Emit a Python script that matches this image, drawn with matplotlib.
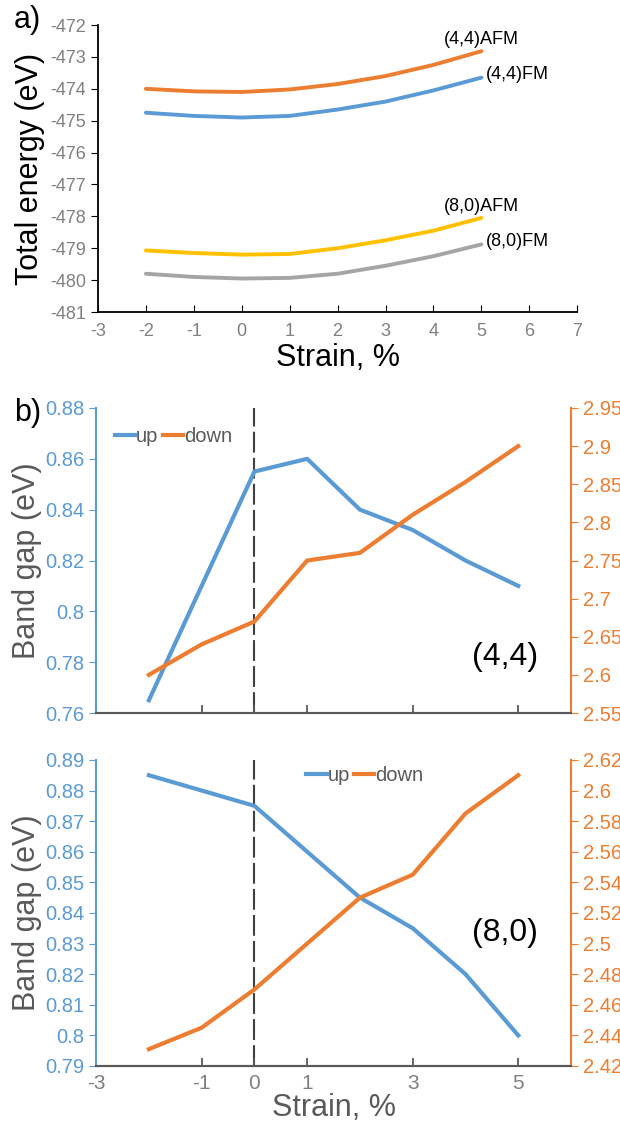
import matplotlib
matplotlib.use('Agg')
import matplotlib.pyplot as plt
from matplotlib import font_manager
import numpy as np

# --- data ---
strain = [-2, -1, 0, 1, 2, 3, 4, 5]

e44_afm = [-474.0, -474.08, -474.1, -474.02, -473.85, -473.6, -473.25, -472.82]
e44_fm = [-474.75, -474.85, -474.9, -474.85, -474.65, -474.4, -474.05, -473.65]
e80_afm = [-479.07, -479.15, -479.2, -479.18, -479.0, -478.75, -478.45, -478.05]
e80_fm = [-479.8, -479.9, -479.95, -479.93, -479.8, -479.55, -479.25, -478.88]

gap44_up = [0.765, 0.81, 0.855, 0.86, 0.84, 0.832, 0.82, 0.81]
gap44_down = [2.60, 2.64, 2.67, 2.75, 2.76, 2.81, 2.853, 2.90]
gap80_up = [0.885, 0.88, 0.875, 0.86, 0.845, 0.835, 0.82, 0.80]
gap80_down = [2.431, 2.445, 2.47, 2.50, 2.53, 2.545, 2.585, 2.61]

BLUE = '#5B9BD5'
ORANGE = '#ED7D31'
GREY = '#A5A5A5'
GOLD = '#FFC000'
TXT = '#595959'

names = {f.name for f in font_manager.fontManager.ttflist}
tickfont = 'Liberation Sans Narrow' if 'Liberation Sans Narrow' in names else 'Liberation Sans'
plt.rcParams['font.family'] = ['Liberation Sans', 'DejaVu Sans']
plt.rcParams['axes.unicode_minus'] = False

fig = plt.figure(figsize=(6.2, 11.28), dpi=100)

# ---------- a) total energy ----------
ax = fig.add_axes([0.158, 0.7234, 0.773, 0.2544])
ax.plot(strain, e44_afm, color=ORANGE, lw=2.8, solid_capstyle='round')
ax.plot(strain, e44_fm, color=BLUE, lw=2.8, solid_capstyle='round')
ax.plot(strain, e80_afm, color=GOLD, lw=2.8, solid_capstyle='round')
ax.plot(strain, e80_fm, color=GREY, lw=2.8, solid_capstyle='round')
ax.set_xlim(-3, 7)
ax.set_ylim(-481, -472)
ax.set_xticks(range(-3, 8))
ax.set_yticks(range(-481, -471))
for s in ['top', 'right']:
    ax.spines[s].set_visible(False)
for s in ['left', 'bottom']:
    ax.spines[s].set_color('black')
    ax.spines[s].set_linewidth(1.3)
ax.tick_params(axis='x', direction='in', length=5, colors='black', labelcolor='#808080', pad=8)
ax.tick_params(axis='y', direction='out', length=5, colors='black', labelcolor='#808080')
for lab in ax.get_xticklabels() + ax.get_yticklabels():
    lab.set_fontfamily(tickfont)
    lab.set_fontsize(13)
ax.set_ylabel('Total energy (eV)', fontsize=22, labelpad=4)
ax.set_xlabel('Strain, %', fontsize=22, labelpad=2)
ax.text(5.0, -472.72, '(4,4)AFM', fontsize=13, ha='center', va='bottom')
ax.text(5.1, -473.55, '(4,4)FM', fontsize=13, ha='left', va='center')
ax.text(5.0, -477.95, '(8,0)AFM', fontsize=13, ha='center', va='bottom')
ax.text(5.1, -478.8, '(8,0)FM', fontsize=13, ha='left', va='center')
fig.text(0.022, 0.982, 'a)', fontsize=22, va='center')


def gap_panel(rect, up, down, ylim_l, yticks_l, ylim_r, yticks_r, tag, tag_y, legend_pos, show_x):
    a1 = fig.add_axes(rect)
    a2 = a1.twinx()
    a1.plot(strain, up, color=BLUE, lw=3, label='up')
    a2.plot(strain, down, color=ORANGE, lw=3, label='down')
    a1.axvline(0, color='#404040', lw=1.5, ls=(0, (10, 2.5)), zorder=0)
    a1.set_xlim(-3, 6)
    a1.set_ylim(*ylim_l)
    a2.set_ylim(*ylim_r)
    a1.set_yticks(yticks_l)
    a2.set_yticks(yticks_r)
    a1.set_yticklabels([f'{v:g}' for v in yticks_l])
    a2.set_yticklabels([f'{v:g}' for v in yticks_r])
    a1.set_xticks([-3, -1, 0, 1, 3, 5])
    for aa in (a1, a2):
        aa.spines['top'].set_visible(False)
        aa.spines['bottom'].set_color('#595959')
        aa.spines['bottom'].set_linewidth(1.5)
    a1.spines['left'].set_color(BLUE)
    a1.spines['left'].set_linewidth(1.5)
    a2.spines['right'].set_color(ORANGE)
    a2.spines['right'].set_linewidth(1.5)
    a1.spines['right'].set_visible(False)
    a2.spines['left'].set_visible(False)
    a1.tick_params(axis='y', direction='out', length=5, colors=BLUE, labelsize=14.5)
    a2.tick_params(axis='y', direction='out', length=5, colors=ORANGE, labelsize=14.5)
    a1.tick_params(axis='x', direction='in', length=6, width=1.3, colors='#595959',
                   labelcolor='#808080', labelsize=15, labelbottom=show_x, pad=6)
    for lab in a1.get_xticklabels() + a1.get_yticklabels() + a2.get_yticklabels():
        lab.set_fontfamily(tickfont)
    a1.set_ylabel('Band gap (eV)', fontsize=22, color=TXT, labelpad=2)
    if show_x:
        a1.set_xlabel('Strain, %', fontsize=22, color=TXT, labelpad=0)
    a1.text(4.75, tag_y, tag, fontsize=23, ha='center', va='center',
            transform=a1.get_xaxis_transform())
    h1, l1 = a1.get_legend_handles_labels()
    h2, l2 = a2.get_legend_handles_labels()
    leg = a1.legend(h1 + h2, l1 + l2, loc='center', bbox_to_anchor=legend_pos, ncol=2, frameon=False,
                    handlelength=1.0, handletextpad=0.05, columnspacing=0.2,
                    prop={'family': tickfont, 'size': 14.5})
    for t in leg.get_texts():
        t.set_color(TXT)
    return a1


gap_panel([0.155, 0.3679, 0.766, 0.2704], gap44_up, gap44_down,
          (0.76, 0.88), np.round(np.arange(0.76, 0.881, 0.02), 2),
          (2.55, 2.95), np.round(np.arange(2.55, 2.951, 0.05), 2),
          '(4,4)', 0.184, (0.163, 0.905), False)
gap_panel([0.155, 0.0550, 0.766, 0.2713], gap80_up, gap80_down,
          (0.79, 0.89), np.round(np.arange(0.79, 0.891, 0.01), 2),
          (2.42, 2.62), np.round(np.arange(2.42, 2.621, 0.02), 2),
          '(8,0)', 0.435, (0.566, 0.95), True)
fig.text(0.022, 0.634, 'b)', fontsize=22, va='center')

fig.savefig('out.png', dpi=100, facecolor='white')
